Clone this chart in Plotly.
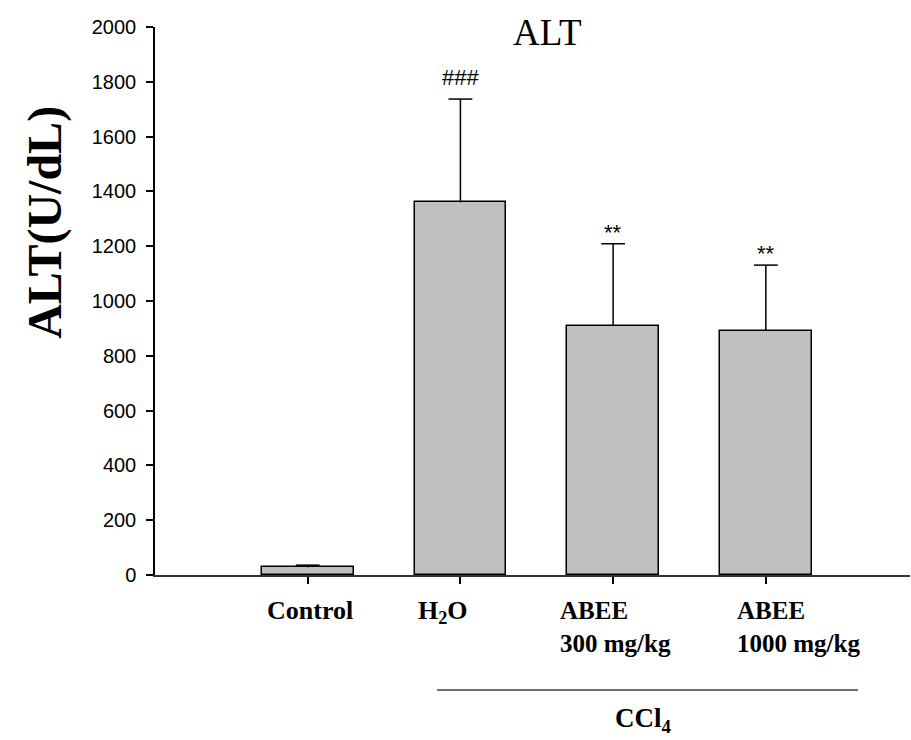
import plotly.graph_objects as go

# ALT activity per treatment group
groups = ["Control", "H2O", "ABEE 300 mg/kg", "ABEE 1000 mg/kg"]
positions = [1, 2, 3, 4]
alt_mean = [28, 1360, 910, 892]
alt_sd = [8, 377, 299, 239]
significance = ["", "###", "**", "**"]

tick_labels = ["Control", "H<sub>2</sub>O", "ABEE<br>300 mg/kg", "ABEE<br>1000 mg/kg"]
label_shift = [-43, -44, -55, -31]

yticks = [0, 200, 400, 600, 800, 1000, 1200, 1400, 1600, 1800, 2000]

serif = "Liberation Serif"
sans = "Liberation Sans"

upper = [m + s for m, s in zip(alt_mean, alt_sd)]

fig = go.Figure()
# bars with a one-sided (upper) error line
fig.add_trace(go.Bar(
    x=positions,
    y=alt_mean,
    width=0.6,
    marker=dict(color="#c0c0c0", line=dict(color="black", width=1.5)),
    error_y=dict(type="data", array=alt_sd, arrayminus=[0] * 4, symmetric=False,
                 color="black", thickness=1.5, width=0),
    showlegend=False,
    hoverinfo="skip",
))
# caps on top of the error lines
fig.add_trace(go.Scatter(
    x=positions,
    y=upper,
    mode="markers",
    marker=dict(symbol="line-ew", size=17, line=dict(color="black", width=1.5)),
    showlegend=False,
    hoverinfo="skip",
    cliponaxis=False,
))

annotations = []
for p, u, sig in zip(positions, upper, significance):
    if sig:
        annotations.append(dict(
            x=p, y=u, xref="x", yref="y", text=sig, showarrow=False,
            yanchor="bottom", yshift=-3 if sig == "**" else 7,
            font=dict(family=sans, size=22, color="black"),
        ))

for p, lab, sh in zip(positions, tick_labels, label_shift):
    multi = "<br>" in lab
    annotations.append(dict(
        x=p, y=-0.036 if multi else -0.034, xref="x", yref="paper",
        text=f"<b>{lab}</b>".replace("<br>", "</b><br><b>"),
        showarrow=False, xanchor="left", yanchor="top", xshift=sh, align="left",
        font=dict(family=serif, size=25 if multi else 26, color="black"),
    ))

# group bracket label
annotations.append(dict(
    x=3.2, y=-0.265, xref="x", yref="paper", text="<b>CCl<sub>4</sub></b>", showarrow=False,
    xanchor="center", yanchor="middle",
    font=dict(family=serif, size=27, color="black"),
))
# chart title
annotations.append(dict(
    x=0.52, y=0.99, xref="paper", yref="paper", text="ALT", showarrow=False,
    xanchor="center", yanchor="middle",
    font=dict(family=serif, size=37, color="black"),
))
# y-axis title
annotations.append(dict(
    x=-0.146, y=0.644, xref="paper", yref="paper", text="<b>ALT(U/dL)</b>", showarrow=False,
    xanchor="center", yanchor="middle", textangle=-90,
    font=dict(family=serif, size=48, color="black"),
))

fig.add_shape(type="line", xref="x", yref="paper", x0=1.847, x1=4.604, y0=-0.21, y1=-0.21,
              line=dict(color="#707070", width=2))

fig.update_layout(
    width=911, height=740,
    margin=dict(l=155, r=1, t=27, b=165),
    plot_bgcolor="white", paper_bgcolor="white",
    annotations=annotations,
    bargap=0,
)
fig.update_xaxes(
    range=[0, 4.944], tickvals=positions, showticklabels=False,
    ticks="outside", ticklen=7, tickwidth=1.5, tickcolor="black",
    showline=True, linecolor="#333333", linewidth=2,
    showgrid=False, zeroline=False, fixedrange=True,
)
fig.update_yaxes(
    range=[0, 2000], tickvals=yticks,
    ticks="outside", ticklen=7, tickwidth=1.5, tickcolor="black",
    showline=True, linecolor="black", linewidth=1.5,
    showgrid=False, zeroline=False,
    tickfont=dict(family=sans, size=20, color="black"),
    ticklabelstandoff=6,
)

fig.write_html("out.html")
